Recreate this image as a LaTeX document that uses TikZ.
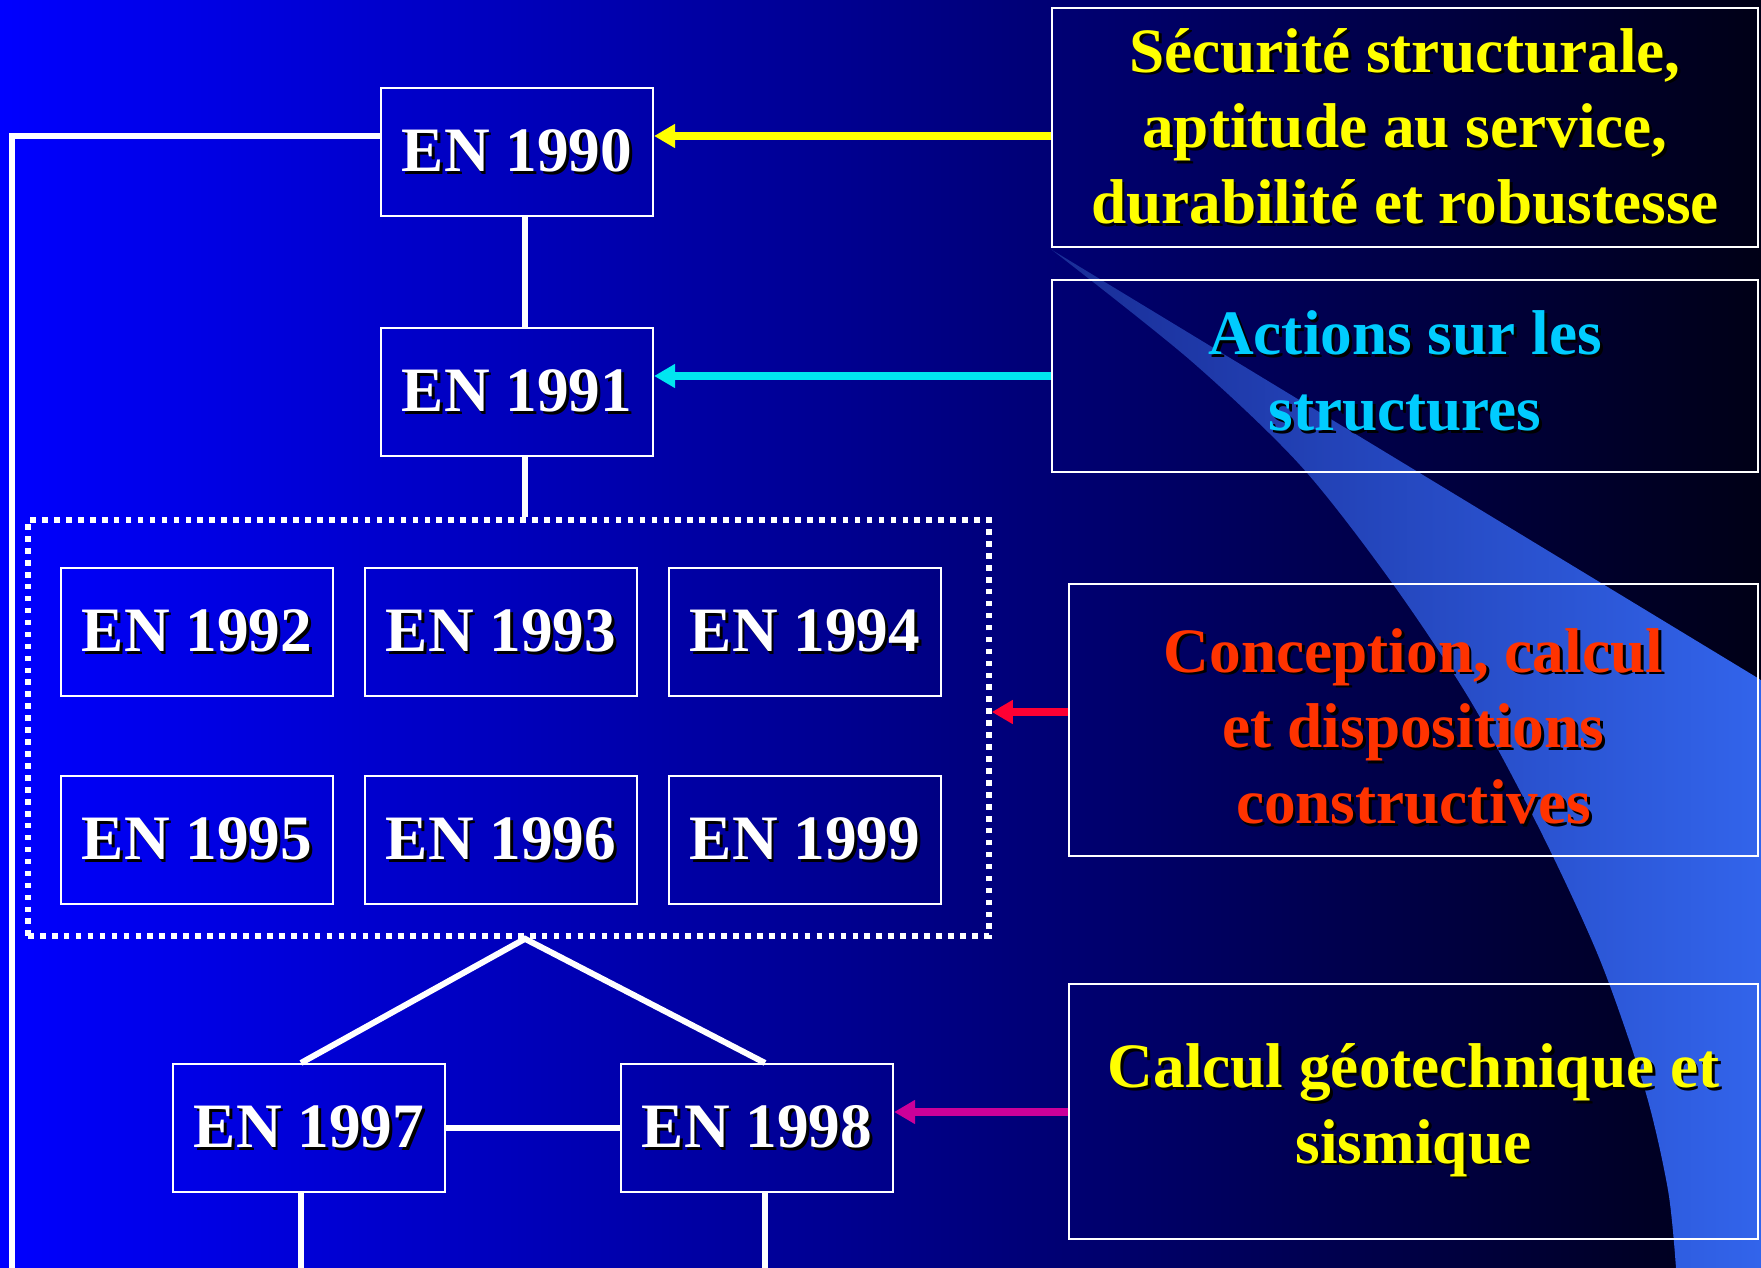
\documentclass[tikz,border=0pt]{standalone}
\usepackage{fontspec}
\setmainfont{Liberation Serif}
\usepackage{tikz}
\usetikzlibrary{calc, arrows.meta}

\definecolor{bgleft}{RGB}{0,0,255}
\definecolor{bgmid}{RGB}{0,0,170}
\definecolor{bgright}{RGB}{0,0,22}
\definecolor{swishA}{RGB}{25,45,150}
\definecolor{swishB}{RGB}{50,100,235}
\definecolor{txtyellow}{RGB}{255,255,0}
\definecolor{txtcyan}{RGB}{0,204,255}
\definecolor{txtred}{RGB}{255,51,0}
\definecolor{arrcyan}{RGB}{0,230,240}
\definecolor{arrred}{RGB}{255,0,51}
\definecolor{arrmag}{RGB}{204,0,153}

\newcommand{\shd}[1]{\rlap{\kern1.6pt\raisebox{-1.6pt}{\color{black}#1}}#1}

\begin{document}
\begin{tikzpicture}[x=0.2mm, y=-0.2mm,
  enbox/.style={draw=white, line width=1.2pt, minimum width=54.4mm, minimum height=25.6mm,
    inner sep=0pt, text=white, font=\fontsize{36}{43}\selectfont\bfseries},
  txtbox/.style={draw=white, line width=1.2pt, inner sep=0pt, align=center,
    font=\fontsize{36}{43}\selectfont\bfseries},
  dotbox/.style={draw=white, line width=3.2pt, dash pattern=on 3.2pt off 3.6pt},
  conn/.style={white, line width=3.4pt},
  arr/.style={line width=4.3pt, -{Triangle[length=12pt,width=13pt]}}]
  \useasboundingbox (0,0) rectangle (1761,1268);
  % background and light swoosh
  \shade[left color=bgleft, middle color=bgmid, right color=bgright] (0,0) rectangle (1761,1268);
  \shade[left color=swishA, right color=swishB] (1052,250) -- (1761,680) -- (1761,1268)
    -- plot[smooth] coordinates {(1676,1268) (1668,1190) (1645,1090) (1600,960) (1540,830)
      (1470,700) (1390,580) (1300,465) (1190,360) (1052,250)} -- cycle;

  % eurocode boxes
  \node[enbox] (e1990) at (517,152) {\shd{EN 1990}};
  \node[enbox] (e1991) at (517,392) {\shd{EN 1991}};
  \node[dotbox, minimum width=192.2mm, minimum height=83.2mm] (grp) at (508.5,728) {};
  \foreach \n/\x/\y in {1992/197/632,1993/501/632,1994/805/632,1995/197/840,1996/501/840,1999/805/840} {
    \node[enbox] (e\n) at (\x,\y) {\shd{EN \n}};
  }
  \node[enbox] (e1997) at (309,1128) {\shd{EN 1997}};
  \node[enbox] (e1998) at (757,1128) {\shd{EN 1998}};

  % topic boxes
  \node[txtbox, text=txtyellow, minimum width=141.2mm, minimum height=47.8mm] (secu) at (1405,127.5)
    {\shd{Sécurité structurale,}\\\shd{aptitude au service,}\\\shd{durabilité et robustesse}};
  \node[txtbox, text=txtcyan, minimum width=141.2mm, minimum height=38.4mm] (actions) at (1405,376)
    {\shd{Actions sur les}\\\shd{structures}\rule[-2.2mm]{0pt}{2.2mm}};
  \node[txtbox, text=txtred, minimum width=137.8mm, minimum height=54.4mm] (concep) at (1413.5,720)
    {\rule{0pt}{11.8mm}\shd{Conception, calcul}\\\shd{et dispositions}\\\shd{constructives}};
  \node[txtbox, text=txtyellow, minimum width=137.8mm, minimum height=51mm] (geo) at (1413.5,1111.5)
    {\shd{Calcul géotechnique et}\\\shd{sismique}};

  % white links
  \coordinate (bot) at (0,1268);
  \coordinate (corner) at (12,1268);
  \coordinate (l0) at ([yshift=3.2mm]e1990.west);
  \coordinate (s0) at ([xshift=1.6mm]e1990.south);
  \coordinate (s1) at ([xshift=1.6mm]e1991.south);
  \coordinate (d7) at ([xshift=-1.6mm]e1997.north);
  \coordinate (d8) at ([xshift=1.6mm]e1998.north);
  \draw[conn] (l0) -| (corner);
  \draw[conn] (s0) -- (s0 |- e1991.north);
  \draw[conn] (s1) -- (s1 |- grp.north);
  \coordinate (apex) at (s1 |- grp.south);
  \draw[conn] (d7) -- (apex) -- (d8);
  \draw[conn] (e1997) -- (e1998);
  \draw[conn] (d7 |- e1997.south) -- (d7 |- bot);
  \draw[conn] (d8 |- e1998.south) -- (d8 |- bot);

  % coloured arrows
  \coordinate (a1) at ([yshift=3.2mm]e1990.east);
  \coordinate (a2) at ([yshift=3.2mm]e1991.east);
  \coordinate (a3) at ([yshift=3.2mm]grp.east);
  \coordinate (a4) at ([yshift=3.2mm]e1998.east);
  \draw[arr, txtyellow] (a1 -| secu.west) -- (a1);
  \draw[arr, arrcyan] (a2 -| actions.west) -- (a2);
  \draw[arr, arrred] (a3 -| concep.west) -- (a3);
  \draw[arr, arrmag] (a4 -| geo.west) -- (a4);
\end{tikzpicture}
\end{document}
